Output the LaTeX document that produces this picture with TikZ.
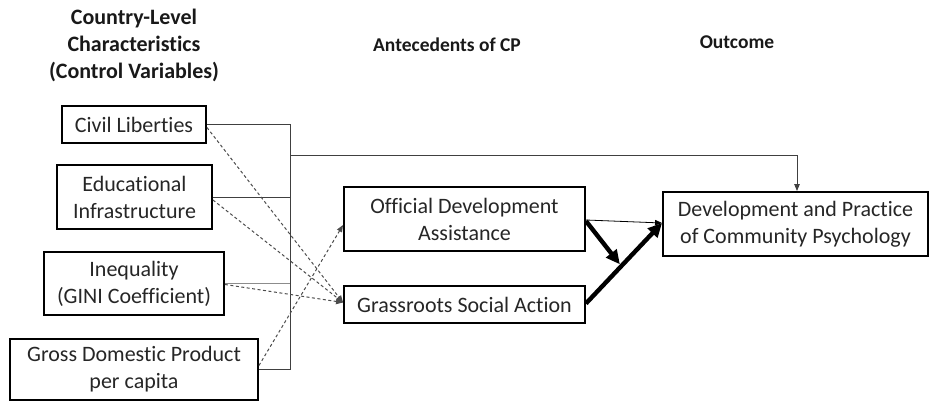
\documentclass[tikz,border=0pt]{standalone}
\usepackage{fontspec}
\setmainfont{Carlito}[Ligatures=NoCommon]
\usetikzlibrary{arrows.meta,calc}
\begin{document}
\begin{tikzpicture}[x=1pt,y=-1pt,
  box/.style={draw, line width=1.9pt, inner sep=0pt, align=center,
    font=\fontsize{22}{27}\selectfont, text=black!85},
  head/.style={align=center, font=\fontsize{22}{27}\selectfont\bfseries, inner sep=0pt, text=black!90},
  headsm/.style={align=center, font=\fontsize{19.5}{24}\selectfont\bfseries, inner sep=0pt, text=black!90},
  thin/.style={line width=0.9pt, draw=black!75},
  dsh/.style={line width=1pt, draw=black!70, dash pattern=on 3pt off 2.5pt,
    -{Triangle[length=7pt,width=5.5pt]}},
  thick/.style={line width=4.4pt, -{Triangle[length=14pt,width=13pt]}}
]
\useasboundingbox (0,0) rectangle (930,403);

% headers
\node[head] (h1) at (134,45) {Country-Level\\Characteristics\\(Control Variables)};
\node[headsm] (h2) at (447,45) {Antecedents of CP};
\node[headsm] (h3) at (737,42) {Outcome};

% control boxes
\node[box, minimum width=144pt, minimum height=37pt] (cl) at (134,124.5) {Civil Liberties};
\node[box, minimum width=155pt, minimum height=64pt] (edu) at (134.5,197) {Educational\\Infrastructure};
\node[box, minimum width=180pt, minimum height=63pt] (ineq) at (134,283.5) {Inequality\\(GINI Coefficient)};
\node[box, minimum width=248pt, minimum height=61pt] (gdp) at (134,369.5) {Gross Domestic Product\\per capita};

% antecedents
\node[box, minimum width=241pt, minimum height=64pt] (oda) at (464.5,219) {Official Development\\Assistance};
\node[box, minimum width=241pt, minimum height=37pt] (grass) at (464.5,304.5) {Grassroots Social Action};

% outcome
\node[box, minimum width=265pt, minimum height=64pt] (out) at (795.5,224) {Development and Practice\\of Community Psychology};

% bracket of control variables
\coordinate (vx) at (290,0);
\coordinate (j) at (290,155);
\coordinate (jt) at (797,155);
\draw[thin] (cl.east) -- (cl.east -| vx) -- (gdp.east -| vx) -- (gdp.east);
\draw[thin] (edu.east) -- (edu.east -| vx);
\draw[line width=0.9pt, draw=black!45] (ineq.east) -- (ineq.east -| vx);
\draw[thin, -{Triangle[length=7pt,width=5.5pt]}] (j) -- (jt) -- (jt |- out.north);

% dashed paths
\draw[dsh] ($(cl.east)+(0,3)$) -- ($(grass.west)+(0,-2)$);
\draw[dsh] ($(edu.east)+(0,3)$) -- ($(grass.west)+(0,-2)$);
\draw[dsh] ($(ineq.east)+(0,1)$) -- ($(grass.west)+(0,-2)$);
\draw[dsh] ($(gdp.east)+(0,-4)$) -- ($(oda.west)+(0,6)$);

% antecedents to outcome
\draw[line width=0.8pt, -{Triangle[length=7pt,width=5.5pt]}] ($(oda.east)+(0,1)$) -- ($(out.west)+(0,-1)$);
\draw[thick] ($(grass.east)+(0,-1)$) -- ($(out.west)+(0,-1)$);
\coordinate (m) at ($(grass.east)!0.47!(out.west)$);
\draw[thick, shorten >=3pt] ($(oda.east)+(0,2)$) -- (m);
\end{tikzpicture}
\end{document}
